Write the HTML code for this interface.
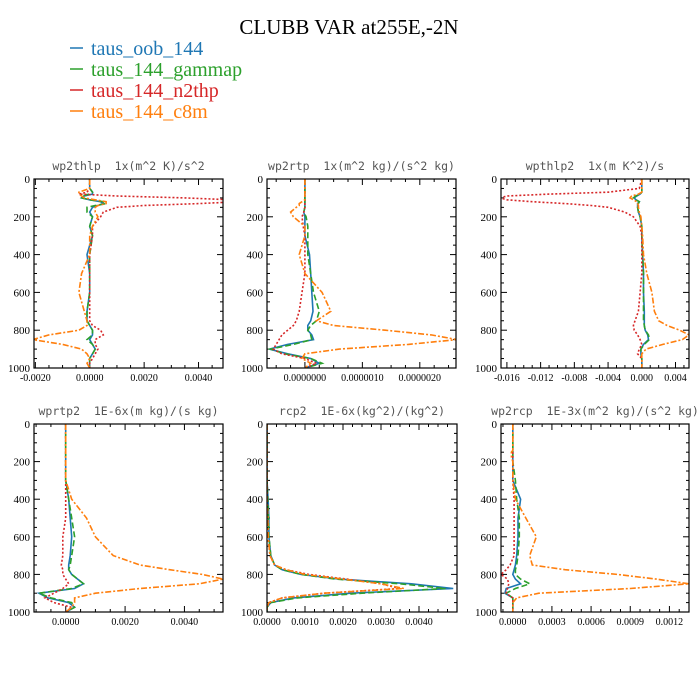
<!DOCTYPE html>
<html><head><meta charset="utf-8">
<style>
body{margin:0;background:#fff;}
svg{display:block;}
.tl{font-family:"Liberation Serif",serif;font-size:11px;fill:#000;}
.pt{font-family:"DejaVu Sans Mono","Liberation Mono",monospace;font-size:11.5px;fill:#555;white-space:pre;}
</style></head><body>
<svg id="chart" width="700" height="700" xmlns="http://www.w3.org/2000/svg">
<text x="349" y="34" text-anchor="middle" font-family="Liberation Serif,serif" font-size="21">CLUBB VAR at255E,-2N</text>
<g font-family="Liberation Serif,serif" font-size="20">
<g><line x1="70" y1="48" x2="83" y2="48" stroke="#1f77b4" stroke-width="1.5"/><text x="91" y="55" fill="#1f77b4">taus_oob_144</text></g>
<g><line x1="70" y1="69" x2="83" y2="69" stroke="#2ca02c" stroke-width="1.5"/><text x="91" y="76" fill="#2ca02c">taus_144_gammap</text></g>
<g><line x1="70" y1="90" x2="83" y2="90" stroke="#d62728" stroke-width="1.5"/><text x="91" y="97" fill="#d62728">taus_144_n2thp</text></g>
<g><line x1="70" y1="111" x2="83" y2="111" stroke="#ff7f0e" stroke-width="1.5"/><text x="91" y="118" fill="#ff7f0e">taus_144_c8m</text></g>
</g>
</svg>
<script>
const levels=[0,50,70,80,90,100,110,120,130,140,150,175,200,250,300,400,500,600,700,750,775,800,825,850,875,900,925,950,975,1000];
const seriesNames=["taus_oob_144","taus_144_gammap","taus_144_n2thp","taus_144_c8m"];
const yTicks=[0,200,400,600,800,1000];
const titles=["wp2thlp  1x(m^2 K)/s^2","wp2rtp  1x(m^2 kg)/(s^2 kg)","wpthlp2  1x(m K^2)/s","wprtp2  1E-6x(m kg)/(s kg)","rcp2  1E-6x(kg^2)/(kg^2)","wp2rcp  1E-3x(m^2 kg)/(s^2 kg)"];
const xDomains=[[-0.00205,0.0049],[-0.66,2.63],[-0.0167,0.0056],[-0.00107,0.0053],[0,0.005],[-0.00009,0.00135]];
const xTickVals=[[-0.002,0,0.002,0.004],[0,1,2],[-0.016,-0.012,-0.008,-0.004,0,0.004],[0,0.002,0.004],[0,0.001,0.002,0.003,0.004],[0,0.0003,0.0006,0.0009,0.0012]];
const xTickLabels=[["-0.0020","0.0000","0.0020","0.0040"],["0.0000000","0.0000010","0.0000020"],["-0.016","-0.012","-0.008","-0.004","0.000","0.004"],["0.0000","0.0020","0.0040"],["0.0000","0.0010","0.0020","0.0030","0.0040"],["0.0000","0.0003","0.0006","0.0009","0.0012"]];
const p1Blue=[0,0,0.0001,0.0001,-0.0002,-0.0003,0,0.0004,0.0005,0.0003,0.0001,0,0.0001,0,0.0001,-0.0001,0,0,-0.0001,-0.0001,0,0.0001,0.0001,0,0.0001,0.0002,0.0001,0,0,0];
const p1Green=[0,0,0.0001,0,-0.0003,-0.0003,0,0.0005,0.0006,0.0002,-0.0001,-0.0001,0.0001,0,0.0001,0,0,0,-0.0001,-0.0001,0,0.0001,0.0001,-0.0001,0.0001,0.0002,0.0001,0,0,0];
const p1Red=[0,0,-0.0001,-0.0004,0.001,0.0035,0.0052,0.0055,0.004,0.002,0.001,0.0005,0.0004,0.0001,0.0001,0,0,0,0,0,0.0001,0.0004,0.0005,0.0002,0.0002,0.0003,0.0002,0.0001,0,0];
const p1Orange=[0,0,-0.0004,-0.0004,-0.0003,-0.0002,0.0002,0.0006,0.0006,0.0003,0.0002,0.0002,0.0003,0.0001,0,0,-0.0003,-0.0004,-0.0002,-0.0001,-0.0001,-0.0004,-0.0015,-0.0021,-0.001,-0.0003,-0.0001,0,-0.0001,0];
const p2Blue=[0,0,0,0,0,0,0,0,0,0,0,-0.02,0,0,0,0.08,0.1,0.12,0.14,0.1,0.05,0.05,0.12,0.15,-0.3,-0.62,-0.3,0.1,0.25,0];
const p2Green=[0,0,0,0,0,0,0,0,0,0,0,-0.02,0.02,0.05,0.05,0.05,0.1,0.15,0.25,0.2,0.1,0.05,0.1,0.12,-0.2,-0.6,-0.35,0.1,0.3,0];
const p2Red=[0,0,0,0,0,0,0,0,0,0,0,-0.02,-0.05,-0.03,0,0,0,-0.05,-0.1,-0.15,-0.2,-0.3,-0.4,-0.45,-0.5,-0.55,-0.4,0,0.2,0];
const p2Orange=[0,0,0,0,0,0,0,-0.05,-0.1,-0.1,-0.15,-0.25,-0.2,0,0,-0.1,0,0.3,0.45,0.2,0.5,1.4,2.2,2.65,1.8,0.6,0,-0.05,0.1,0];
const p3Blue=[0,0,0,-0.0002,-0.0006,-0.0009,-0.0007,-0.0003,-0.0005,-0.0005,-0.0005,-0.0004,-0.0002,0,0,0.0001,0.0002,0.0002,0.0003,0.0003,0.0003,0.0004,0.0007,0.0008,0.0002,-0.0001,-0.0001,0,0,0];
const p3Green=[0,0,0,-0.0002,-0.0007,-0.001,-0.0007,-0.0003,-0.0004,-0.0005,-0.0005,-0.0004,-0.0002,0,0,0.0001,0.0002,0.0002,0.0002,0.0002,0.0003,0.0004,0.0008,0.0009,0.0003,-0.0001,-0.0001,0,0,0];
const p3Red=[0,-0.0003,-0.004,-0.011,-0.016,-0.0168,-0.016,-0.013,-0.009,-0.006,-0.004,-0.002,-0.001,-0.0002,0,0,0,-0.0002,-0.0004,-0.0008,-0.001,-0.0009,-0.0005,-0.0002,0,-0.0003,-0.0005,0,0,0];
const p3Orange=[0,0,0,-0.0004,-0.0012,-0.0014,-0.001,-0.0006,-0.0005,-0.0004,-0.0004,-0.0003,-0.0001,0,0.0001,0.0002,0.0006,0.0012,0.0015,0.002,0.003,0.0045,0.0056,0.0048,0.0025,0.0005,0,0,0,0];
const p4Blue=[0,0,0,0,0,0,0,0,0,0,0,0,0,0,0,0.0001,0.00015,0.0002,0.00015,0.0001,0.0001,0.0002,0.0004,0.0006,0.0003,-0.0009,-0.0006,0.0001,0.0003,0];
const p4Green=[0,0,0,0,0,0,0,0,0,0,0,0,0,0,0,0.0001,0.0002,0.0003,0.0002,0.00015,0.0001,0.0002,0.0004,0.0006,0.0002,-0.0009,-0.0005,0.0002,0.0003,0];
const p4Red=[0,0,0,0,0,0,0,0,0,0,0,0,0,0,0,0,0,-0.0001,-0.0001,-0.00015,-0.0001,-0.0001,0,0.0001,-0.0001,-0.0004,-0.0007,-0.0004,0.0002,0];
const p4Orange=[0,0,0,0,0,0,0,0,0,0,0,0,0,0,0,0.0002,0.0007,0.001,0.0016,0.0025,0.0035,0.0046,0.0053,0.0045,0.0025,0.001,0.0003,0.0003,0.0002,0];
const p5Blue=[0,0,0,0,0,0,0,0,0,0,0,0,0,0,0,0.00003,0.00005,0.00005,0.0001,0.0002,0.0004,0.0009,0.0019,0.0038,0.0049,0.0022,0.0007,0.0001,0,0];
const p5Green=[0,0,0,0,0,0,0,0,0,0,0,0,0,0,0,0.00002,0.00004,0.00005,0.0001,0.0002,0.0004,0.0009,0.0018,0.0035,0.0047,0.0025,0.0008,0.0001,0,0];
const p5Red=[0,0,0,0,0,0,0,0,0,0,0,0,0,0,0,0,0.00002,0.00003,0.00008,0.0002,0.0005,0.0011,0.0021,0.003,0.0035,0.0015,0.0004,0.00005,0,0];
const p5Orange=[0,0,0,0,0,0,0,0,0,0,0,0,0,0,0,0,0.00002,0.00003,0.00008,0.0002,0.0005,0.001,0.002,0.003,0.0036,0.0015,0.0004,0.00005,0,0];
const p6Blue=[0,0,0,0,0,0,0,0,0,0,0,0,0,0,0,0.00006,0.00004,0.00004,0.00003,0.00002,0.00001,0,0.00002,0.00006,-0.00005,-0.00006,0,0,0,0];
const p6Green=[0,0,0,0,0,0,0,0,0,0,0,0,0,0.00001,0.00002,0.00003,0.00005,0.00005,0.00004,0.00003,0.00002,0.00002,0.00006,0.00013,0.00002,-0.00005,0,0,0,0];
const p6Red=[0,0,0,0,0,0,0,0,0,0,0,0,0,0,0,0.00001,0.00001,0.00001,0.00001,-0.00002,-0.00005,-0.00009,-0.00004,-0.00003,-0.00004,-0.00005,0,0,0,0];
const p6Orange=[0,0,0,0,0,0,0,0,0,0,-0.00001,-0.00001,0,0,0,0.00002,0.0001,0.00018,0.00013,0.00015,0.0004,0.0008,0.0011,0.00135,0.0009,0.0002,0.00003,0,0,0];

const panelSeries=[[p1Blue,p1Green,p1Red,p1Orange],[p2Blue,p2Green,p2Red,p2Orange],[p3Blue,p3Green,p3Red,p3Orange],[p4Blue,p4Green,p4Red,p4Orange],[p5Blue,p5Green,p5Red,p5Orange],[p6Blue,p6Green,p6Red,p6Orange]];
const colors=["#1f77b4","#2ca02c","#d62728","#ff7f0e"];
const dashes=["","6,3","2,2","6,2,2,2"];
const boxes=[[34,179,223,368],[267,179,456,368],[501,179,689,368],[34,424,223,612],[267,424,457,612],[501,424,689,612]];
const NS="http://www.w3.org/2000/svg";
const svg=document.getElementById("chart");
function mk(tag,attrs,parent){const e=document.createElementNS(NS,tag);for(const k in attrs)e.setAttribute(k,attrs[k]);parent.appendChild(e);return e;}
const defs=mk("defs",{},svg);
const slug=["wp2thlp","wp2rtp","wpthlp2","wprtp2","rcp2","wp2rcp"];
boxes.forEach((b,i)=>{
  const [x0,y0,x1,y1]=b;
  const dom=xDomains[i];
  const xs=v=>x0+(v-dom[0])/(dom[1]-dom[0])*(x1-x0);
  const ys=v=>y0+v/1000*(y1-y0);
  const g=mk("g",{},svg);
  
  
  const t=mk("text",{x:(x0+x1)/2,y:y0-9,"text-anchor":"middle",class:"pt"},g);
  t.setAttributeNS("http://www.w3.org/XML/1998/namespace","xml:space","preserve");
  t.textContent=titles[i];
  
  
  const cp=mk("clipPath",{id:"cp"+i},defs);
  mk("rect",{x:x0,y:y0,width:x1-x0,height:y1-y0},cp);
  for(let v=0;v<=1000;v+=50){
    const y=ys(v);const major=v%200===0;const L=major?6:3;
    mk("line",{x1:x0,y1:y,x2:x0+L,y2:y,stroke:"#000","stroke-width":1},g);
    mk("line",{x1:x1,y1:y,x2:x1-L,y2:y,stroke:"#000","stroke-width":1},g);
  }
  yTicks.forEach(v=>{
    const lb=mk("text",{x:x0-4,y:ys(v)+4,"text-anchor":"end",class:"tl"},g);
    lb.textContent=String(v);
    
    
  });
  const tv=xTickVals[i];const step=tv[1]-tv[0];const mstep=step/4;
  for(let k=-40;k<=40;k++){
    const v=tv[0]+k*mstep; if(v<dom[0]-1e-12||v>dom[1]+1e-12)continue;
    const x=xs(v);const major=Math.abs(k%4)===0;const L=major?6:3;
    mk("line",{x1:x,y1:y1,x2:x,y2:y1-L,stroke:"#000","stroke-width":1},g);
    mk("line",{x1:x,y1:y0,x2:x,y2:y0+L,stroke:"#000","stroke-width":1},g);
  }
  tv.forEach((v,j)=>{
    const lb=mk("text",{x:xs(v),y:y1+13,"text-anchor":"middle",class:"tl"},g);
    lb.style.fontSize="10px";
    lb.textContent=xTickLabels[i][j];
    
    
  });
  const sg=mk("g",{"clip-path":"url(#cp"+i+")"},g);
  panelSeries[i].forEach((arr,s)=>{
    const d=arr.map((v,k)=>(k?"L":"M")+xs(v).toFixed(1)+","+ys(levels[k]).toFixed(1)).join("");
    const p=mk("path",{d:d,fill:"none",stroke:colors[s],"stroke-width":1.6,"stroke-dasharray":dashes[s]},sg);
    
    
  });
  const fr=mk("rect",{x:x0,y:y0,width:x1-x0,height:y1-y0,fill:"none",stroke:"#000","stroke-width":1.2},g);
  
  
});
</script>
</body></html>
